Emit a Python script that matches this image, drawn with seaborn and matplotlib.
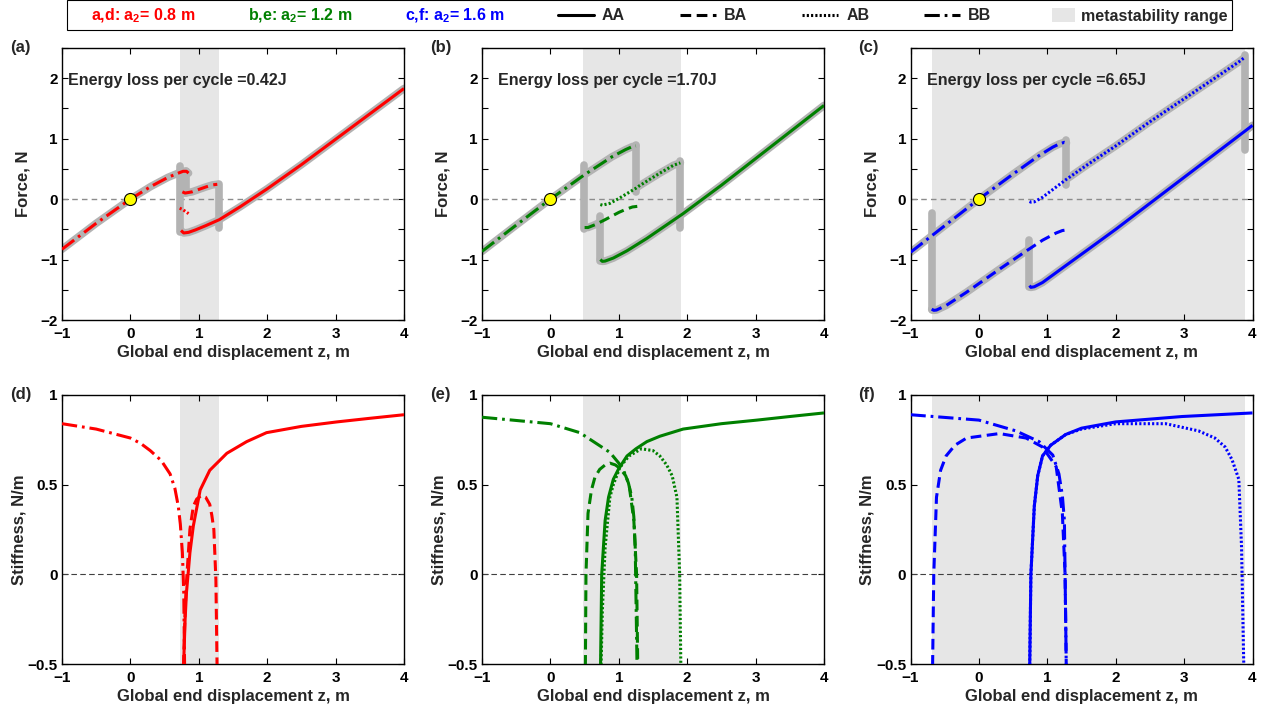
import numpy as np
import pandas as pd
import matplotlib
matplotlib.use("Agg")
import matplotlib.pyplot as plt
from matplotlib.lines import Line2D
from matplotlib.patches import Patch, Rectangle
from matplotlib.ticker import MultipleLocator
import seaborn as sns

# ---------------- data ----------------
# Panel (a)/(d): a2 = 0.8 m
a_BB_z = [-1, -0.5, 0, 0.3, 0.55, 0.7, 0.77, 0.82, 0.85]
a_BB_F = [-0.83, -0.40, 0, 0.21, 0.36, 0.43, 0.46, 0.46, 0.43]
a_BA_z = [0.76, 0.80, 0.9, 1.0, 1.1, 1.2, 1.27]
a_BA_F = [0.12, 0.10, 0.12, 0.16, 0.20, 0.235, 0.245]
a_AB_z = [0.72, 0.76, 0.80, 0.85]
a_AB_F = [-0.15, -0.17, -0.20, -0.24]
a_AA_z = [0.74, 0.78, 0.85, 0.95, 1.1, 1.3, 1.6, 2.0, 2.5, 3.0, 3.5, 4.0]
a_AA_F = [-0.52, -0.56, -0.55, -0.51, -0.44, -0.34, -0.13, 0.17, 0.57, 0.99, 1.41, 1.83]
a_jump_z = [0.73, 0.82, 1.30]
a_jump_top = [0.55, 0.47, 0.25]
a_jump_bot = [-0.55, 0.10, -0.48]

a_kBB_z = [-1, -0.5, 0, 0.15, 0.29, 0.45, 0.58, 0.65, 0.70, 0.73, 0.76, 0.78, 0.795]
a_kBB = [0.84, 0.81, 0.76, 0.73, 0.69, 0.635, 0.56, 0.48, 0.38, 0.28, 0.12, -0.1, -0.6]
a_kAA_z = [0.77, 0.80, 0.82, 0.85, 0.87, 0.92, 1.02, 1.16, 1.41, 1.70, 1.99, 2.5, 3.02, 3.5, 4.0]
a_kAA = [-0.6, -0.25, -0.1, 0.03, 0.12, 0.27, 0.47, 0.58, 0.675, 0.74, 0.79, 0.825, 0.85, 0.87, 0.89]
a_kBA_z = [0.77, 0.80, 0.82, 0.87, 0.92, 0.97, 1.04, 1.10, 1.16, 1.19, 1.22, 1.25, 1.27]
a_kBA = [-0.6, -0.2, -0.04, 0.25, 0.38, 0.42, 0.44, 0.43, 0.39, 0.33, 0.25, -0.03, -0.6]

# Panel (b)/(e): a2 = 1.2 m
b_BB_z = [-1, -0.5, 0, 0.5, 0.9, 1.1, 1.2, 1.25]
b_BB_F = [-0.865, -0.43, 0, 0.405, 0.70, 0.82, 0.87, 0.88]
b_BA_z = [0.5, 0.55, 0.65, 0.73, 0.8, 1.0, 1.1, 1.2, 1.27]
b_BA_F = [-0.47, -0.47, -0.425, -0.38, -0.34, -0.22, -0.17, -0.13, -0.12]
b_AB_z = [0.73, 0.76, 0.87, 1.0, 1.25, 1.3, 1.6, 1.8, 1.9]
b_AB_F = [-0.09, -0.10, -0.07, 0.01, 0.18, 0.22, 0.43, 0.56, 0.60]
b_AA_z = [0.73, 0.76, 0.8, 0.92, 1.12, 1.41, 1.94, 2.5, 3.0, 3.5, 4.0]
b_AA_F = [-1.0, -1.03, -1.025, -0.975, -0.855, -0.65, -0.24, 0.23, 0.67, 1.11, 1.55]
b_jump_z = [0.49, 0.73, 1.25, 1.90]
b_jump_top = [0.57, -0.28, 0.90, 0.63]
b_jump_bot = [-0.50, -1.03, 0.12, -0.47]

b_kBB_z = [-1, 0, 0.43, 0.87, 1.0, 1.07, 1.14, 1.19, 1.22, 1.24, 1.27]
b_kBB = [0.876, 0.84, 0.79, 0.68, 0.62, 0.58, 0.51, 0.43, 0.32, 0.15, -0.6]
b_kBA_z = [0.51, 0.52, 0.55, 0.60, 0.65, 0.72, 0.80, 0.87, 0.95, 1.02, 1.10, 1.15, 1.22, 1.26, 1.28]
b_kBA = [-0.6, 0.0, 0.34, 0.47, 0.54, 0.585, 0.61, 0.62, 0.61, 0.59, 0.55, 0.50, 0.30, 0.0, -0.6]
b_kAB_z = [0.735, 0.76, 0.80, 0.87, 0.92, 1.02, 1.15, 1.33, 1.5, 1.6, 1.7, 1.78, 1.85, 1.89, 1.91]
b_kAB = [-0.6, -0.2, 0.15, 0.43, 0.50, 0.60, 0.66, 0.70, 0.69, 0.66, 0.61, 0.55, 0.43, 0.0, -0.6]
b_kAA_z = [0.73, 0.75, 0.80, 0.85, 0.92, 1.0, 1.12, 1.25, 1.41, 1.6, 1.94, 2.5, 3.02, 3.5, 4.0]
b_kAA = [-0.6, 0.0, 0.30, 0.43, 0.53, 0.59, 0.66, 0.70, 0.74, 0.77, 0.81, 0.84, 0.86, 0.88, 0.90]

# Panel (c)/(f): a2 = 1.6 m
c_BB_z = [-1, -0.5, 0, 0.5, 0.88, 1.08, 1.17, 1.25, 1.28]
c_BB_F = [-0.88, -0.44, 0, 0.415, 0.72, 0.86, 0.91, 0.94, 0.93]
c_BA_z = [-0.69, -0.66, -0.62, -0.48, -0.18, 0.3, 0.69, 0.73, 0.93, 1.13, 1.22, 1.28]
c_BA_F = [-1.82, -1.84, -1.835, -1.76, -1.54, -1.16, -0.86, -0.83, -0.68, -0.56, -0.52, -0.51]
c_AB_z = [0.74, 0.76, 0.81, 0.93, 1.27, 1.6, 2.0, 2.5, 3.0, 3.5, 3.8, 3.88]
c_AB_F = [-0.04, -0.05, -0.045, 0.03, 0.32, 0.58, 0.88, 1.28, 1.66, 2.04, 2.27, 2.34]
c_AA_z = [0.74, 0.76, 0.81, 0.93, 1.27, 1.6, 2.0, 2.5, 3.0, 3.5, 4.0]
c_AA_F = [-1.43, -1.46, -1.45, -1.38, -1.10, -0.83, -0.50, -0.07, 0.36, 0.79, 1.22]
c_jump_z = [-0.69, 0.73, 1.27, 3.89]
c_jump_top = [-0.23, -0.68, 0.98, 2.39]
c_jump_bot = [-1.84, -1.45, 0.23, 0.81]

c_kBB_z = [-1, 0, 0.54, 0.88, 1.08, 1.17, 1.22, 1.25, 1.28]
c_kBB = [0.89, 0.86, 0.80, 0.74, 0.665, 0.56, 0.44, 0.30, -0.6]
c_kBA_z = [-0.68, -0.66, -0.62, -0.56, -0.48, -0.35, -0.18, 0.30, 0.69, 0.93, 1.13, 1.22, 1.26, 1.28]
c_kBA = [-0.6, 0.0, 0.43, 0.58, 0.66, 0.72, 0.76, 0.785, 0.76, 0.71, 0.60, 0.34, 0.0, -0.6]
c_kAA_z = [0.74, 0.76, 0.81, 0.86, 0.93, 1.05, 1.27, 1.5, 2.0, 2.97, 4.0]
c_kAA = [-0.6, 0.0, 0.38, 0.55, 0.66, 0.72, 0.78, 0.815, 0.85, 0.88, 0.90]
c_kAB_z = [0.74, 0.76, 0.81, 0.86, 0.93, 1.05, 1.27, 1.5, 2.0, 2.73, 3.21, 3.45, 3.6, 3.7, 3.80, 3.84, 3.87, 3.88]
c_kAB = [-0.6, 0.0, 0.38, 0.55, 0.66, 0.72, 0.78, 0.81, 0.84, 0.84, 0.80, 0.76, 0.71, 0.64, 0.53, 0.15, -0.46, -0.6]

meta_ranges = [(0.72, 1.30), (0.48, 1.91), (-0.69, 3.89)]
energy_loss = ["0.42", "1.70", "6.65"]
a2_values = ["0.8", "1.2", "1.6"]
colors = ["#ff0000", "#008000", "#0000ff"]
top_letters = ["(a)", "(b)", "(c)"]
bot_letters = ["(d)", "(e)", "(f)"]

# ---------------- style ----------------
sns.set_theme(style="ticks")
plt.rcParams.update({
    "font.family": ["Liberation Sans", "DejaVu Sans"],
    "font.weight": "bold",
    "axes.labelweight": "bold",
    "font.size": 10,
    "mathtext.fontset": "custom",
    "mathtext.rm": "Liberation Sans:bold",
    "mathtext.bf": "Liberation Sans:bold",
    "mathtext.it": "Liberation Sans:bold",
    "xtick.direction": "in", "ytick.direction": "in",
    "xtick.top": True, "ytick.right": True,
    "xtick.minor.visible": False,
    "axes.edgecolor": "black", "axes.linewidth": 1.0,
    "xtick.color": "black", "ytick.color": "black",
    "xtick.major.size": 4, "ytick.major.size": 4,
    "ytick.minor.size": 4, "xtick.major.width": 0.8, "ytick.major.width": 0.8,
    "ytick.minor.width": 0.8,
    "xtick.labelsize": 11, "ytick.labelsize": 11,
    "xtick.major.pad": 5, "ytick.major.pad": 3,
})

STYLES = {
    "AA": "-",
    "BA": (0, (3.5, 1.8)),
    "AB": (0, (0.7, 0.7)),
    "BB": (0, (5.0, 1.6, 0.9, 1.6)),
}
GRAY = "#b3b3b3"
SHADE = "#e6e6e6"
LABEL_FS = 12


def line(ax, z, v, color, ls="-", lw=2.0, zorder=3, cap="butt"):
    df = pd.DataFrame({"z": z, "v": v})
    sns.lineplot(data=df, x="z", y="v", color=color, sort=False, estimator=None,
                 ax=ax, lw=lw, zorder=zorder, legend=False, linestyle=ls,
                 solid_capstyle=cap, dash_capstyle="butt")


def subset(z, v, lo, hi):
    z = np.asarray(z); v = np.asarray(v)
    m = (z >= lo - 1e-9) & (z <= hi + 1e-9)
    return z[m], v[m]


fig = plt.figure(figsize=(12.7, 7.15), dpi=100)
W, H = 1270.0, 715.0
lefts = [62, 482, 910.5]
aw = 342

force_sets = [
    dict(BB=(a_BB_z, a_BB_F), BA=(a_BA_z, a_BA_F), AB=(a_AB_z, a_AB_F), AA=(a_AA_z, a_AA_F),
         jumps=(a_jump_z, a_jump_top, a_jump_bot),
         gray=dict(BB=(-9, 9), BA=(-9, 9), AA=(-9, 9))),
    dict(BB=(b_BB_z, b_BB_F), BA=(b_BA_z, b_BA_F), AB=(b_AB_z, b_AB_F), AA=(b_AA_z, b_AA_F),
         jumps=(b_jump_z, b_jump_top, b_jump_bot),
         gray=dict(BB=(-9, 9), BA=(-9, 0.73), AB=(1.25, 9), AA=(-9, 9))),
    dict(BB=(c_BB_z, c_BB_F), BA=(c_BA_z, c_BA_F), AB=(c_AB_z, c_AB_F), AA=(c_AA_z, c_AA_F),
         jumps=(c_jump_z, c_jump_top, c_jump_bot),
         gray=dict(BB=(-9, 9), BA=(-9, 0.73), AB=(1.27, 9), AA=(-9, 9))),
]
stiff_sets = [
    dict(BB=(a_kBB_z, a_kBB), BA=(a_kBA_z, a_kBA), AA=(a_kAA_z, a_kAA)),
    dict(BB=(b_kBB_z, b_kBB), BA=(b_kBA_z, b_kBA), AB=(b_kAB_z, b_kAB), AA=(b_kAA_z, b_kAA)),
    dict(BB=(c_kBB_z, c_kBB), BA=(c_kBA_z, c_kBA), AB=(c_kAB_z, c_kAB), AA=(c_kAA_z, c_kAA)),
]

for i in range(3):
    col = colors[i]
    # ---------- force ----------
    ax = fig.add_axes([lefts[i] / W, 1 - 320 / H, aw / W, 272 / H])
    ax.axvspan(*meta_ranges[i], color=SHADE, lw=0, zorder=0)
    ax.axhline(0, color="#8c8c8c", lw=1.0, ls=(0, (4, 3)), zorder=1)
    fs = force_sets[i]
    for br, (lo, hi) in fs["gray"].items():
        zz, vv = subset(*fs[br], lo, hi)
        line(ax, zz, vv, GRAY, "-", lw=5.5, zorder=2, cap="round")
    jz, jt, jb = fs["jumps"]
    for zj, t, b in zip(jz, jt, jb):
        line(ax, [zj, zj], [t, b], GRAY, "-", lw=5.5, zorder=2, cap="round")
    for br in ["BB", "BA", "AB", "AA"]:
        line(ax, *fs[br], col, STYLES[br], lw=2.2, zorder=3)
    sns.scatterplot(x=[0], y=[0], ax=ax, s=75, color="yellow", edgecolor="black",
                    linewidth=0.8, zorder=5, legend=False)
    ax.set_xlim(-1, 4)
    ax.set_ylim(-2, 2.5)
    ax.set_xticks([-1, 0, 1, 2, 3, 4])
    ax.set_yticks([-2, -1, 0, 1, 2])
    ax.yaxis.set_minor_locator(MultipleLocator(0.5))
    ax.set_xlabel("Global end displacement z, m", fontsize=LABEL_FS, labelpad=3)
    ax.set_ylabel("Force, N", fontsize=LABEL_FS, labelpad=7)
    ax.text(0.018 if i == 0 else 0.047, 0.882, f"Energy loss per cycle ={energy_loss[i]}J",
            transform=ax.transAxes, fontsize=11.5, fontweight="bold", va="center", ha="left")
    ax.text(-0.152, 1.0, top_letters[i], transform=ax.transAxes, fontsize=12,
            fontweight="bold", va="center", ha="left")

    # ---------- stiffness ----------
    ax2 = fig.add_axes([lefts[i] / W, 1 - 664 / H, aw / W, 269 / H])
    ax2.axvspan(*meta_ranges[i], color=SHADE, lw=0, zorder=0)
    ax2.axhline(0, color="#404040", lw=0.8, ls=(0, (5, 3)), zorder=1)
    ss = stiff_sets[i]
    for br in ["AA", "AB", "BA", "BB"]:
        if br in ss:
            line(ax2, *ss[br], col, STYLES[br], lw=2.2, zorder=3)
    ax2.set_xlim(-1, 4)
    ax2.set_ylim(-0.5, 1)
    ax2.set_xticks([-1, 0, 1, 2, 3, 4])
    ax2.set_yticks([-0.5, 0, 0.5, 1])
    ax2.set_yticklabels(["\u22120.5", "0", "0.5", "1"])
    ax2.set_xlabel("Global end displacement z, m", fontsize=LABEL_FS, labelpad=3)
    ax2.set_ylabel("Stiffness, N/m", fontsize=LABEL_FS, labelpad=1)
    ax2.text(-0.152, 1.0, bot_letters[i], transform=ax2.transAxes, fontsize=12,
             fontweight="bold", va="center", ha="left")

# ---------------- legend ----------------
LEG_FS = 11.5
yc = 1 - 16 / H
common = dict(loc="center left", frameon=False, borderpad=0, borderaxespad=0,
              prop={"weight": "bold", "size": LEG_FS})

# colour-coded parameter labels (no handle)
hA = [Line2D([], [], color="none") for _ in colors]
lA = [f"{tag}: a$_2$= {a2} m" for tag, a2 in zip(["a,d", "b,e", "c,f"], a2_values)]
legA = fig.legend(hA, lA, ncol=3, bbox_to_anchor=(91 / W, yc),
                  handlelength=0, handletextpad=0, columnspacing=3.3, **common)
for t, c in zip(legA.get_texts(), colors):
    t.set_color(c)

# branch line styles
hB = [Line2D([], [], color="black", lw=2.2, linestyle=STYLES[br]) for br in ["AA", "BA", "AB", "BB"]]
legB = fig.legend(hB, ["AA", "BA", "AB", "BB"], ncol=4, bbox_to_anchor=(558 / W, yc),
                  handlelength=2.25, handletextpad=0.5, columnspacing=3.45, **common)

# metastability patch
legC = fig.legend([Patch(facecolor=SHADE, edgecolor="none")], ["metastability range"],
                  bbox_to_anchor=(1052 / W, yc), handlelength=1.45, handleheight=0.9,
                  handletextpad=0.35, **common)

fig.add_artist(Rectangle((67 / W, 1 - 30 / H), (1232 - 67) / W, 29.5 / H,
                         transform=fig.transFigure, fill=False, edgecolor="black", lw=0.8))

fig.savefig("out.png", dpi=100)
